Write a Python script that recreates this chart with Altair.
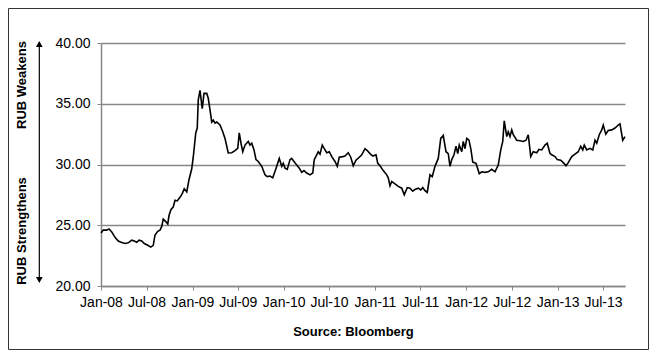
import altair as alt
import pandas as pd

dates = [
    "2008-01-01", "2008-01-10", "2008-01-24", "2008-02-02", "2008-02-13", "2008-02-26",
    "2008-03-10", "2008-03-21", "2008-04-06", "2008-04-19", "2008-05-03", "2008-05-13",
    "2008-05-23", "2008-06-01", "2008-06-12", "2008-06-22", "2008-07-06", "2008-07-18",
    "2008-07-28", "2008-08-04", "2008-08-15", "2008-08-24", "2008-08-31", "2008-09-06",
    "2008-09-16", "2008-09-24", "2008-09-29", "2008-10-07", "2008-10-16", "2008-10-23",
    "2008-11-01", "2008-11-12", "2008-11-21", "2008-11-29", "2008-12-09", "2008-12-18",
    "2008-12-29", "2009-01-04", "2009-01-14", "2009-01-20", "2009-01-24", "2009-01-31",
    "2009-02-09", "2009-02-16", "2009-02-27", "2009-03-05", "2009-03-12", "2009-03-19",
    "2009-03-25", "2009-04-01", "2009-04-08", "2009-04-21", "2009-05-02", "2009-05-11",
    "2009-05-18", "2009-05-24", "2009-06-07", "2009-06-20", "2009-07-01", "2009-07-07",
    "2009-07-14", "2009-07-21", "2009-07-30", "2009-08-12", "2009-08-19", "2009-08-26",
    "2009-09-04", "2009-09-12", "2009-09-21", "2009-10-05", "2009-10-18", "2009-10-27",
    "2009-11-07", "2009-11-18", "2009-11-30", "2009-12-14", "2009-12-24", "2009-12-30",
    "2010-01-06", "2010-01-15", "2010-01-26", "2010-02-02", "2010-02-11", "2010-02-22",
    "2010-03-04", "2010-03-14", "2010-03-23", "2010-04-03", "2010-04-16", "2010-04-27",
    "2010-05-03", "2010-05-13", "2010-05-19", "2010-05-26", "2010-06-04", "2010-06-12",
    "2010-06-22", "2010-07-02", "2010-07-12", "2010-07-25", "2010-08-03", "2010-08-11",
    "2010-08-25", "2010-09-03", "2010-09-16", "2010-09-26", "2010-10-06", "2010-10-17",
    "2010-10-30", "2010-11-09", "2010-11-22", "2010-12-01", "2010-12-12", "2010-12-23",
    "2011-01-05", "2011-01-12", "2011-01-21", "2011-02-03", "2011-02-17", "2011-02-23",
    "2011-03-02", "2011-03-09", "2011-03-22", "2011-04-04", "2011-04-18", "2011-04-28",
    "2011-05-10", "2011-05-21", "2011-06-01", "2011-06-10", "2011-06-23", "2011-07-03",
    "2011-07-11", "2011-07-20", "2011-07-29", "2011-08-09", "2011-08-18", "2011-08-29",
    "2011-09-11", "2011-09-21", "2011-10-01", "2011-10-12", "2011-10-21", "2011-10-28",
    "2011-11-04", "2011-11-13", "2011-11-21", "2011-11-28", "2011-12-04", "2011-12-14",
    "2011-12-20", "2011-12-27", "2012-01-03", "2012-01-12", "2012-01-20", "2012-01-27",
    "2012-02-09", "2012-02-22", "2012-03-03", "2012-03-16", "2012-03-29", "2012-04-12",
    "2012-04-25", "2012-05-08", "2012-05-18", "2012-05-26", "2012-06-01", "2012-06-11",
    "2012-06-17", "2012-06-24", "2012-07-01", "2012-07-07", "2012-07-21", "2012-08-03",
    "2012-08-16", "2012-08-27", "2012-09-05", "2012-09-15", "2012-09-25", "2012-10-09",
    "2012-10-18", "2012-10-29", "2012-11-11", "2012-11-20", "2012-12-01", "2012-12-08",
    "2012-12-21", "2012-12-30", "2013-01-13", "2013-01-23", "2013-02-03", "2013-02-12",
    "2013-02-26", "2013-03-11", "2013-03-24", "2013-04-03", "2013-04-11", "2013-04-17",
    "2013-04-27", "2013-05-10", "2013-05-21", "2013-05-30", "2013-06-06", "2013-06-16",
    "2013-06-26", "2013-07-02", "2013-07-12", "2013-07-22", "2013-08-05", "2013-08-18",
    "2013-08-31", "2013-09-07", "2013-09-18", "2013-09-27",
]

usdrub = [
    24.37, 24.60, 24.60, 24.70, 24.45, 24.00,
    23.70, 23.60, 23.50, 23.55, 23.77, 23.70,
    23.60, 23.77, 23.70, 23.50, 23.35, 23.20,
    23.35, 24.20, 24.50, 24.60, 24.90, 25.50,
    25.30, 25.10, 25.80, 26.30, 26.50, 27.05,
    27.00, 27.30, 27.60, 28.00, 27.75, 28.75,
    29.65, 30.60, 32.60, 33.00, 35.30, 36.10,
    34.60, 35.85, 35.85, 35.45, 34.50, 33.50,
    33.65, 33.40, 33.50, 33.25, 32.70, 32.15,
    31.50, 30.95, 30.97, 31.14, 31.33, 32.60,
    31.75, 31.05, 31.60, 31.90, 31.60, 31.75,
    31.20, 30.40, 30.25, 29.85, 29.15, 29.00,
    29.05, 28.90, 29.60, 30.50, 29.85, 30.10,
    29.70, 29.60, 30.40, 30.50, 30.25, 29.95,
    29.70, 29.35, 29.50, 29.30, 29.15, 29.30,
    30.40, 30.80, 31.05, 30.85, 31.60, 31.30,
    30.97, 31.05, 30.65, 30.25, 29.85, 30.60,
    30.65, 30.70, 30.97, 30.60, 29.90, 30.35,
    30.60, 30.80, 31.30, 31.15, 30.90, 30.70,
    30.80, 30.10, 29.90, 29.50, 29.15, 28.90,
    28.25, 28.60, 28.40, 28.20, 28.05, 27.50,
    28.10, 28.05, 27.80, 27.95, 28.05, 27.90,
    28.10, 27.85, 27.70, 29.15, 29.00, 29.85,
    30.50, 32.15, 32.40, 31.05, 30.90, 29.85,
    30.40, 30.80, 31.50, 30.90, 31.60, 31.05,
    31.90, 31.30, 32.15, 32.00, 31.20, 30.20,
    30.10, 29.25, 29.40, 29.35, 29.40, 29.60,
    29.40, 29.95, 31.20, 31.90, 33.60, 32.30,
    32.70, 32.30, 32.85, 32.45, 32.00, 31.95,
    31.90, 32.00, 32.45, 30.65, 31.05, 30.97,
    31.25, 31.20, 31.60, 31.75, 30.90, 30.80,
    30.65, 30.40, 30.35, 30.15, 29.90, 30.15,
    30.65, 30.85, 31.05, 31.50, 31.20, 31.60,
    31.20, 31.33, 31.20, 32.00, 31.75, 32.45,
    32.85, 33.25, 32.50, 32.80, 32.85, 33.00,
    33.25, 33.35, 32.00, 32.30,
]

y_ticks = [20, 25, 30, 35, 40]
x_tick_dates = [(2008 + i // 2, 1 + 6 * (i % 2)) for i in range(12)]
top_label = "RUB Weakens"
bottom_label = "RUB Strengthens"
source_label = "Source: Bloomberg"

df = pd.DataFrame({"date": [d + "T00:00:00" for d in dates], "value": usdrub})
one = pd.DataFrame({"a": [0]})

FONT = "Liberation Sans"
GRID = "#878787"

x_enc = alt.X(
    "date:T",
    scale=alt.Scale(domain=[alt.DateTime(year=2008, month=1, date=1),
                            alt.DateTime(year=2013, month=9, date=27)]),
    axis=alt.Axis(
        values=[alt.DateTime(year=y, month=m, date=1) for y, m in x_tick_dates],
        format="%b-%y", title=None, grid=False, labelOverlap=False,
        labelFlush=False, labelBound=False,
        domainColor=GRID, domainWidth=1.5, tickColor=GRID, tickSize=4,
        labelPadding=5, labelFontSize=14, labelFont=FONT, labelColor="#000",
    ),
)
y_enc = alt.Y(
    "value:Q",
    scale=alt.Scale(domain=[20, 40], nice=False, zero=False),
    axis=alt.Axis(
        values=y_ticks, format=".2f", title=None, grid=True, gridColor=GRID,
        gridWidth=1.3, domainColor=GRID, domainWidth=1.5, tickColor=GRID,
        tickSize=4, labelPadding=7, labelFontSize=14, labelFont=FONT,
        labelColor="#000", labelFlush=False,
    ),
)

line = alt.Chart(df).mark_line(color="#000", strokeWidth=1.6).encode(x=x_enc, y=y_enc)

border = alt.Chart(one).mark_rect(fill="transparent", stroke="#333", strokeWidth=1).encode(
    x=alt.value(-92.5), x2=alt.value(547.5), y=alt.value(-34.5), y2=alt.value(306.5)
)

arrow_line = alt.Chart(one).mark_rule(color="#000", strokeWidth=1.2).encode(
    x=alt.value(-61.7), y=alt.value(3), y2=alt.value(235)
)
arrow_up = alt.Chart(one).mark_point(shape="triangle-up", filled=True, color="#000", size=45, opacity=1).encode(
    x=alt.value(-61.7), y=alt.value(1)
)
arrow_down = alt.Chart(one).mark_point(shape="triangle-down", filled=True, color="#000", size=45, opacity=1).encode(
    x=alt.value(-61.7), y=alt.value(237)
)

txt_top = alt.Chart(one).mark_text(
    text=top_label, angle=270, font=FONT, fontSize=13, fontWeight="bold",
    align="center", baseline="middle", color="#000"
).encode(x=alt.value(-79.3), y=alt.value(42))
txt_bottom = alt.Chart(one).mark_text(
    text=bottom_label, angle=270, font=FONT, fontSize=13, fontWeight="bold",
    align="center", baseline="middle", color="#000"
).encode(x=alt.value(-79.3), y=alt.value(188))
txt_source = alt.Chart(one).mark_text(
    text=source_label, font=FONT, fontSize=13, fontWeight="bold",
    align="center", baseline="middle", color="#000"
).encode(x=alt.value(252.5), y=alt.value(288.5))

chart = alt.layer(
    line, border, arrow_line, arrow_up, arrow_down, txt_top, txt_bottom, txt_source
).properties(
    width=524, height=243, padding=0, background="white"
).configure_view(strokeWidth=0)

chart.save("out.html", embed_options={"renderer": "svg", "actions": False})
